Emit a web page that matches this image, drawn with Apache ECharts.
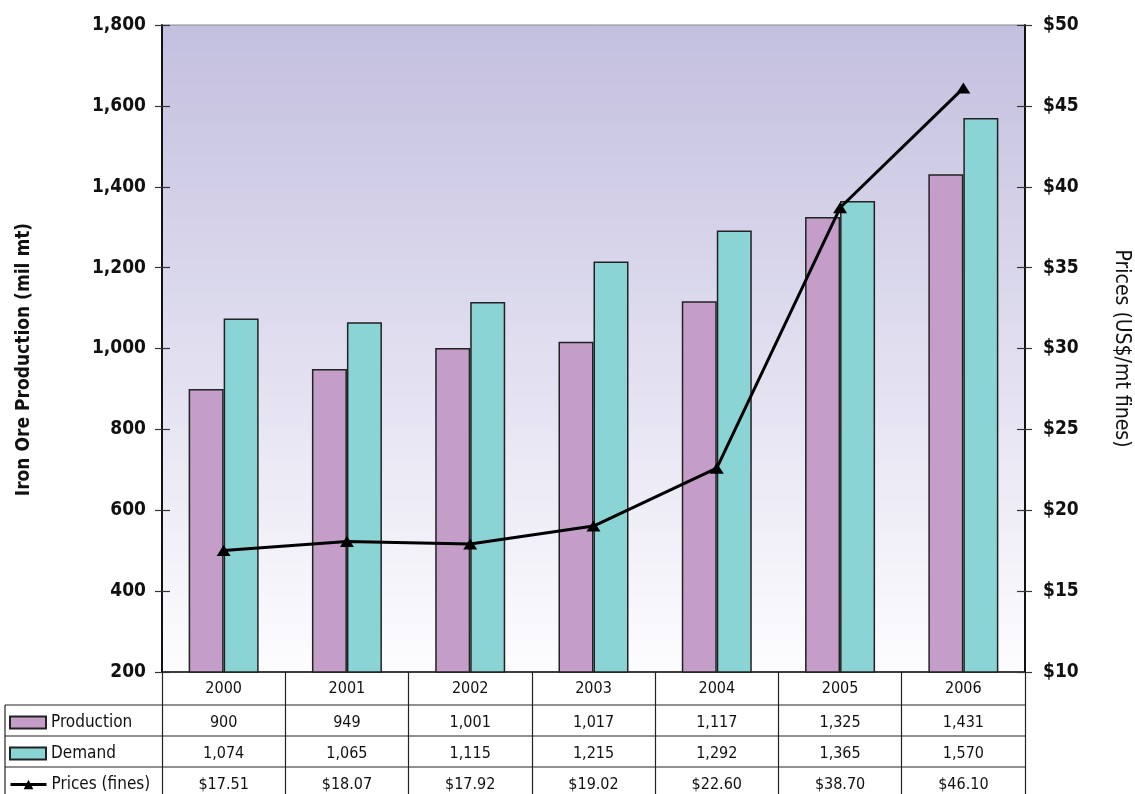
<!DOCTYPE html>
<html><head><meta charset="utf-8">
<script src="https://cdn.jsdelivr.net/npm/echarts@6/dist/echarts.min.js"></script>
<style>html,body{margin:0;padding:0;background:#fff}#c{width:1135px;height:794px}</style>
</head><body><div id="c"></div>
<script>
const years = ['2000','2001','2002','2003','2004','2005','2006'];
const production = [900, 949, 1001, 1017, 1117, 1325, 1431];
const demand = [1074, 1065, 1115, 1215, 1292, 1365, 1570];
const prices = [17.51, 18.07, 17.92, 19.02, 22.60, 38.70, 46.10];
const leftTicks = {min: 200, max: 1800, interval: 200};
const rightTicks = {min: 10, max: 50, interval: 5};

const FONT = '"Liberation Sans Narrow","DejaVu Sans Condensed","Roboto",sans-serif';
const TXT = '#111';
const fmtInt = v => v.toLocaleString('en-US');
const fmtPrice = v => '$' + v.toFixed(2);

function rowAxis(values, offset) {
  return {
    type: 'category', data: years, position: 'bottom', offset: offset, gridIndex: 0,
    axisLine: {show: false}, axisTick: {show: false},
    axisLabel: {show: true, interval: 0, margin: 9, fontFamily: FONT, fontSize: 16, color: TXT,
      formatter: (v, i) => values[i]}
  };
}
function rowLegend(item, top) {
  return {
    orient: 'horizontal', left: 9, top: top, padding: 0, itemWidth: 36, itemHeight: 12, itemGap: 0,
    textStyle: {fontFamily: FONT, fontSize: 17, color: TXT},
    data: [item], selectedMode: false
  };
}

const chart = echarts.init(document.getElementById('c'), null, {renderer: 'canvas'});
const option = {
  animation: false,
  grid: {left: 162, right: 110, top: 25, bottom: 122, show: true, borderWidth: 1, borderColor: '#8a8a8a',
    containLabel: false, outerBoundsMode: 'none',
    backgroundColor: new echarts.graphic.LinearGradient(0, 0, 0, 1, [
      {offset: 0, color: '#c3bfdf'}, {offset: 1, color: '#fdfdff'}])},
  legend: [
    rowLegend({name: 'Production', icon: 'rect'}, 714),
    rowLegend({name: 'Demand', icon: 'rect'}, 745),
    rowLegend({name: 'Prices (fines)', lineStyle: {width: 3, color: '#000'}, itemStyle: {color: '#000'}}, 776)
  ],
  xAxis: [
    {type: 'category', data: years, position: 'bottom',
      axisLine: {show: true, lineStyle: {color: '#111', width: 1.5}},
      axisTick: {show: true, length: 130, lineStyle: {color: '#222', width: 1.2}},
      axisLabel: {interval: 0, margin: 9, fontFamily: FONT, fontSize: 16, color: TXT}},
    rowAxis(production.map(fmtInt), 34),
    rowAxis(demand.map(fmtInt), 65),
    rowAxis(prices.map(fmtPrice), 96)
  ],
  yAxis: [
    {type: 'value', min: leftTicks.min, max: leftTicks.max, interval: leftTicks.interval,
      name: 'Iron Ore Production (mil mt)', nameLocation: 'middle', nameGap: 128, nameRotate: 90,
      nameTextStyle: {fontFamily: FONT, fontSize: 19, color: TXT, fontWeight: 'bold', padding: [0, 22, 0, 0]},
      axisLine: {show: true, lineStyle: {color: '#111', width: 2}},
      axisTick: {show: true, length: 7, lineStyle: {color: '#333', width: 1.2}},
      splitLine: {show: false},
      axisLabel: {margin: 16, fontFamily: FONT, fontSize: 19, fontWeight: 'bold', color: TXT, formatter: v => fmtInt(v)}},
    {type: 'value', min: rightTicks.min, max: rightTicks.max, interval: rightTicks.interval, position: 'right',
      name: 'Prices (US$/mt fines)', nameLocation: 'middle', nameGap: 86, nameRotate: -90,
      nameTextStyle: {fontFamily: FONT, fontSize: 21, color: TXT},
      axisLine: {show: true, lineStyle: {color: '#111', width: 2}},
      axisTick: {show: true, length: 7, lineStyle: {color: '#333', width: 1.2}},
      splitLine: {show: false},
      axisLabel: {margin: 18, fontFamily: FONT, fontSize: 19, fontWeight: 'bold', color: TXT, formatter: v => '$' + v}},
    {type: 'value', min: leftTicks.min, max: leftTicks.max, interval: leftTicks.interval, position: 'left',
      axisLine: {show: false}, axisLabel: {show: false}, splitLine: {show: false},
      axisTick: {show: true, inside: true, length: 8, lineStyle: {color: '#333', width: 1.2}}},
    {type: 'value', min: rightTicks.min, max: rightTicks.max, interval: rightTicks.interval, position: 'right',
      axisLine: {show: false}, axisLabel: {show: false}, splitLine: {show: false},
      axisTick: {show: true, inside: true, length: 8, lineStyle: {color: '#333', width: 1.2}}}
  ],
  series: [
    {name: 'Production', type: 'bar', data: production, barWidth: 35, barGap: '0%', yAxisIndex: 0,
      itemStyle: {color: '#c49dc9', borderColor: '#222', borderWidth: 1.5}},
    {name: 'Demand', type: 'bar', data: demand, barWidth: 35, barGap: '0%', yAxisIndex: 0,
      itemStyle: {color: '#8ad4d6', borderColor: '#222', borderWidth: 1.5}},
    {name: 'Prices (fines)', type: 'line', data: prices, yAxisIndex: 1, z: 5,
      symbol: 'triangle', symbolSize: [14, 11], showAllSymbol: true,
      lineStyle: {color: '#000', width: 3}, itemStyle: {color: '#000'}}
  ],
  graphic: [
    {type: 'line', shape: {x1: 5, y1: 705, x2: 1025, y2: 705}, style: {stroke: '#222', lineWidth: 1.2}},
    {type: 'line', shape: {x1: 5, y1: 736, x2: 1025, y2: 736}, style: {stroke: '#222', lineWidth: 1.2}},
    {type: 'line', shape: {x1: 5, y1: 767, x2: 1025, y2: 767}, style: {stroke: '#222', lineWidth: 1.2}},
    {type: 'line', shape: {x1: 5, y1: 705, x2: 5, y2: 800}, style: {stroke: '#222', lineWidth: 1.2}}
  ]
};
chart.setOption(option);
</script></body></html>
